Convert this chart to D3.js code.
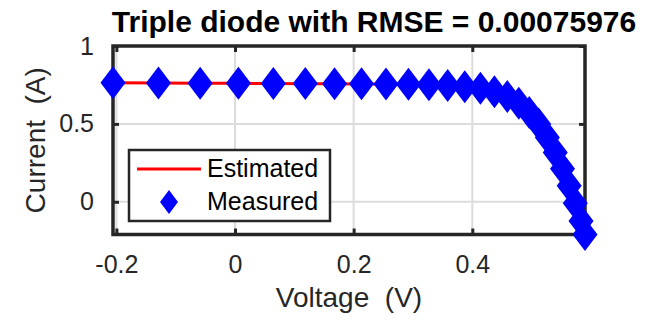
<!DOCTYPE html>
<html><head><meta charset="utf-8">
<script src="https://cdn.jsdelivr.net/npm/d3@7"></script>
<style>html,body{margin:0;padding:0;background:#fff;}svg{display:block;} text{white-space:pre;}</style>
</head><body>
<script>
// Data (RTC France cell, I-V curve)
const voltage = [-0.2057,-0.1291,-0.0588,0.0057,0.0646,0.1185,0.1678,0.2132,0.2545,0.2924,0.3269,0.3585,0.3873,0.4137,0.4373,0.4590,0.4784,0.4960,0.5119,0.5265,0.5398,0.5521,0.5633,0.5736,0.5833,0.5900];
const measured = [0.7640,0.7620,0.7605,0.7605,0.7600,0.7590,0.7570,0.7570,0.7555,0.7540,0.7505,0.7465,0.7385,0.7280,0.7065,0.6755,0.6320,0.5730,0.4990,0.4130,0.3165,0.2120,0.1035,-0.0100,-0.1230,-0.2100];
const estimated = [0.7641,0.7627,0.7614,0.7602,0.7591,0.7580,0.7571,0.7561,0.7551,0.7537,0.7514,0.7474,0.7401,0.7274,0.7070,0.6753,0.6308,0.5719,0.4996,0.4136,0.3175,0.2122,0.1023,-0.0087,-0.1255,-0.2084];
const xTicks = [-0.2, 0, 0.2, 0.4];
const yTicks = [0, 0.5, 1];
const titleText = "Triple diode with RMSE = 0.00075976";
const xLabel = "Voltage  (V)";
const yLabel = "Current  (A)";
const seriesNames = ["Estimated", "Measured"];

const W = 654, H = 324;
const m = {left:113, right:69, top:46, bottom:89.5};
const svg = d3.select("body").append("svg").attr("width", W).attr("height", H);
const x = d3.scaleLinear().domain([-0.2057, 0.59]).range([m.left, W - m.right]);
const y = d3.scaleLinear().domain([-0.21, 1]).range([H - m.bottom, m.top]);
const font = "Helvetica, Arial, 'Liberation Sans', sans-serif";
const axCol = "#262626";

// grid
const g = svg.append("g");
g.selectAll(".gx").data(xTicks).join("line")
  .attr("x1", d => x(d)).attr("x2", d => x(d)).attr("y1", y.range()[1]).attr("y2", y.range()[0])
  .attr("stroke", "#dcdcdc").attr("stroke-width", 2);
g.selectAll(".gy").data(yTicks).join("line")
  .attr("y1", d => y(d)).attr("y2", d => y(d)).attr("x1", x.range()[0]).attr("x2", x.range()[1])
  .attr("stroke", "#dcdcdc").attr("stroke-width", 2);

// axes using d3 axis generators
const tickLen = 6;
function styleAxis(sel){
  sel.select(".domain").remove();
  sel.selectAll(".tick line").attr("stroke", axCol).attr("stroke-width", 3);
  sel.selectAll(".tick text").attr("fill", axCol).style("font-family", font).style("font-size", "25px");
}
const fmt = d => (d === 0 ? "0" : String(d));
svg.append("g").attr("transform", `translate(0,${y.range()[0]})`)
  .call(d3.axisBottom(x).tickValues(xTicks).tickFormat(fmt).tickSizeInner(-tickLen).tickSizeOuter(0).tickPadding(21))
  .call(styleAxis);
svg.append("g").attr("transform", `translate(0,${y.range()[1]})`)
  .call(d3.axisTop(x).tickValues(xTicks).tickFormat("").tickSizeInner(-tickLen).tickSizeOuter(0))
  .call(styleAxis);
svg.append("g").attr("transform", `translate(${x.range()[0]},0)`)
  .call(d3.axisLeft(y).tickValues(yTicks).tickFormat(fmt).tickSizeInner(-tickLen).tickSizeOuter(0).tickPadding(19))
  .call(styleAxis);
svg.append("g").attr("transform", `translate(${x.range()[1]},0)`)
  .call(d3.axisRight(y).tickValues(yTicks).tickFormat("").tickSizeInner(-tickLen).tickSizeOuter(0))
  .call(styleAxis);

// box
svg.append("rect").attr("x", x.range()[0]).attr("y", y.range()[1])
  .attr("width", x.range()[1]-x.range()[0]).attr("height", y.range()[0]-y.range()[1])
  .attr("fill", "none").attr("stroke", axCol).attr("stroke-width", 3.5);

// estimated line
const pts = voltage.map((v,i) => ({v, e: estimated[i], m: measured[i]}));
svg.append("path").datum(pts)
  .attr("d", d3.line().x(d => x(d.v)).y(d => y(d.e)))
  .attr("fill", "none").attr("stroke", "#ff0000").attr("stroke-width", 3);

// measured diamonds
const dw = 12.5, dh = 16.5;
const diamond = (cx, cy, w, h) => `M${cx},${cy-h}L${cx+w},${cy}L${cx},${cy+h}L${cx-w},${cy}Z`;
svg.append("g").selectAll("path").data(pts).join("path")
  .attr("d", d => diamond(x(d.v), y(d.m), dw, dh))
  .attr("fill", "#0000ff");

// title & labels
svg.append("text").attr("x", 374).attr("y", 32)
  .attr("text-anchor", "middle").style("font-family", font).style("font-size", "30px")
  .style("font-weight", "bold").attr("fill", "#000").text(titleText);
svg.append("text").attr("x", (x.range()[0]+x.range()[1])/2).attr("y", 307)
  .attr("text-anchor", "middle").style("font-family", font).style("font-size", "28px")
  .attr("fill", axCol).text(xLabel);
svg.append("text").attr("transform", `translate(45,${(y.range()[0]+y.range()[1])/2}) rotate(-90)`)
  .attr("text-anchor", "middle").style("font-family", font).style("font-size", "28px")
  .attr("fill", axCol).text(yLabel);

// legend
const lg = svg.append("g");
lg.append("rect").attr("x", 129).attr("y", 150).attr("width", 201).attr("height", 71)
  .attr("fill", "#fff").attr("stroke", axCol).attr("stroke-width", 2.5);
lg.append("line").attr("x1", 137).attr("x2", 201).attr("y1", 169).attr("y2", 169)
  .attr("stroke", "#ff0000").attr("stroke-width", 3);
lg.append("path").attr("d", diamond(169, 202, 9, 12)).attr("fill", "#0000ff");
lg.selectAll("text").data(seriesNames).join("text")
  .attr("x", 207).attr("y", (d,i) => 177 + i*33)
  .style("font-family", font).style("font-size", "25px").attr("fill", "#000").text(d => d);
</script>
</body></html>
